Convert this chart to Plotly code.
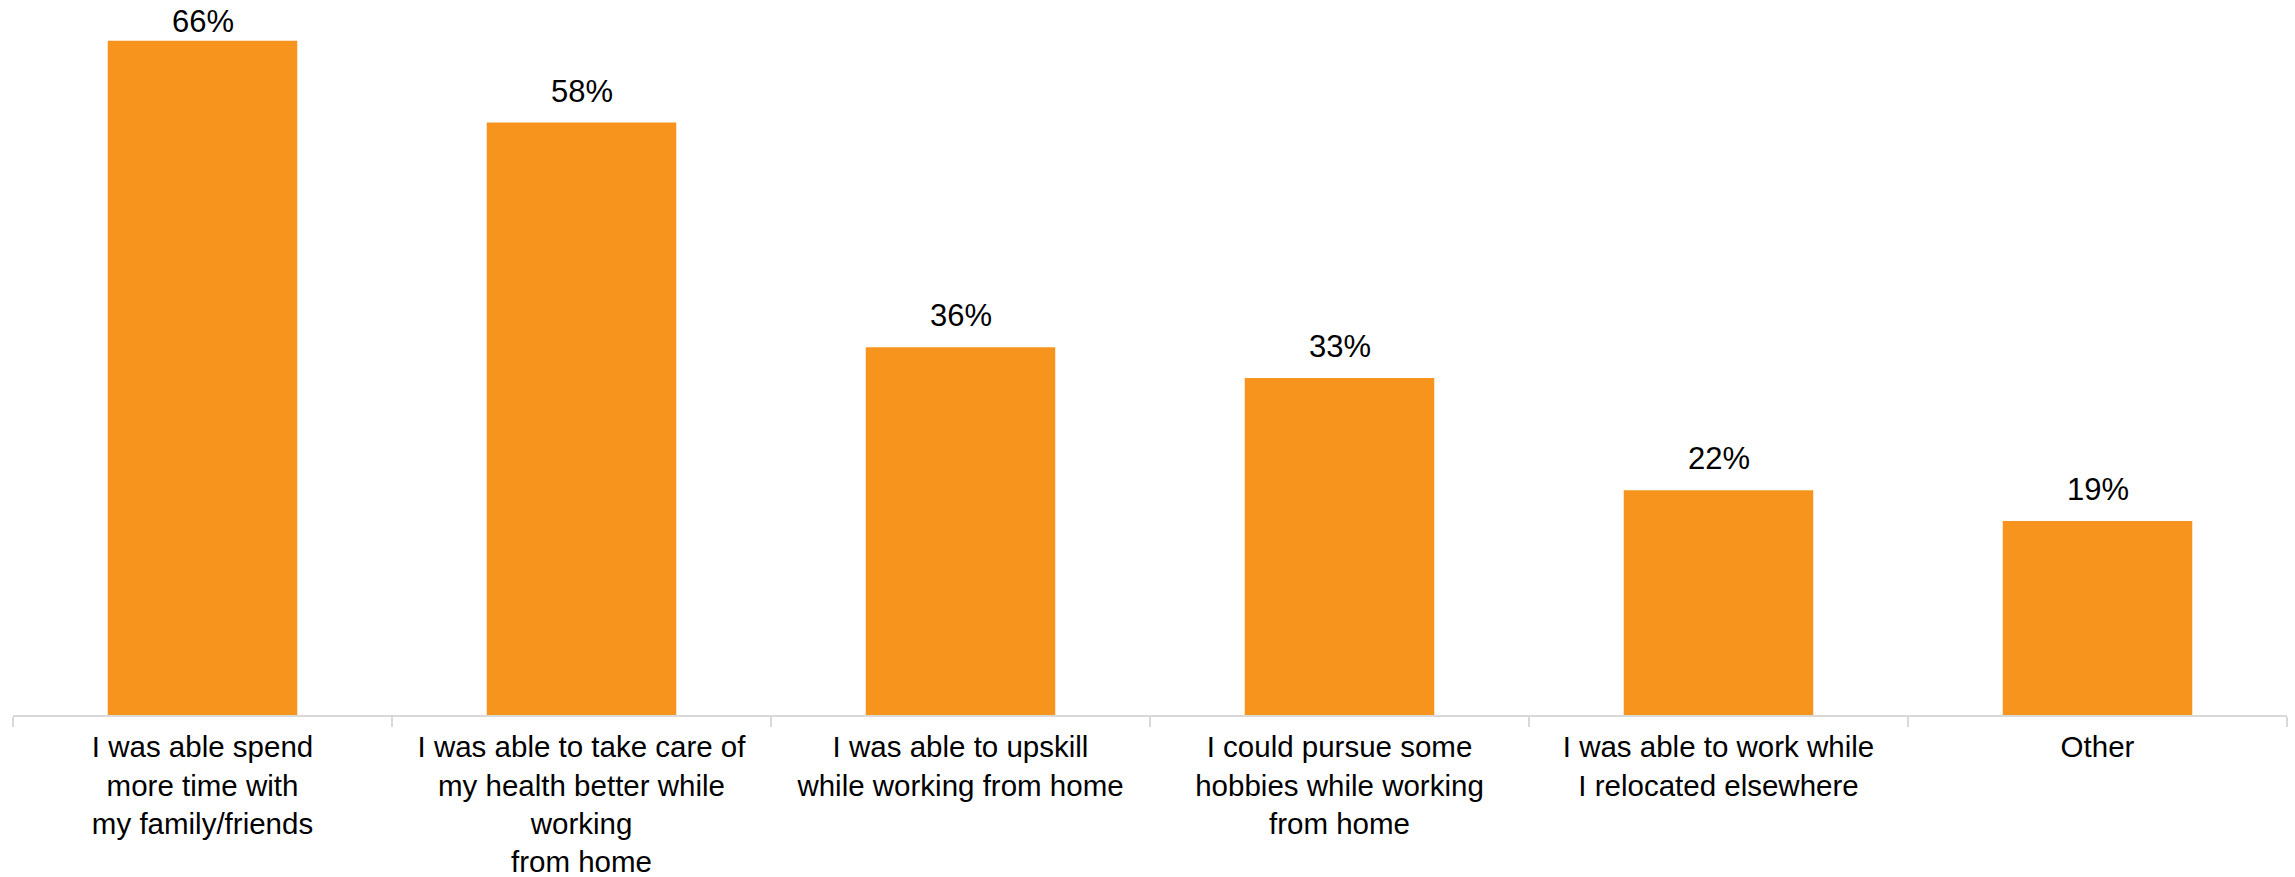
import plotly.graph_objects as go

# Survey responses: benefits of working from home
categories = [
    "I was able spend<br>more time with<br>my family/friends",
    "I was able to take care of<br>my health better while<br>working<br>from home",
    "I was able to upskill<br>while working from home",
    "I could pursue some<br>hobbies while working<br>from home",
    "I was able to work while<br>I relocated elsewhere",
    "Other",
]
values = [66, 58, 36, 33, 22, 19]
value_labels = [f"{v}%" for v in values]

BAR_COLOR = "#F7941E"
AXIS_COLOR = "#D9D9D9"
FONT = "Liberation Sans, Arial, sans-serif"

WIDTH, HEIGHT = 2295, 877
MARGIN_T, MARGIN_B = 0, 162
Y_MAX = 70.0
PLOT_H = HEIGHT - MARGIN_T - MARGIN_B

fig = go.Figure(
    go.Bar(
        x=categories,
        y=values,
        marker=dict(color=BAR_COLOR, line=dict(width=0)),
        hovertemplate="%{y}%<extra></extra>",
    )
)

# Percentage labels above each bar; a label that would run past the top
# edge is tucked closer to its bar so it stays fully visible.
LABEL_GAP = 12
LABEL_ROOM = 41
for cat, val, lab in zip(categories, values, value_labels):
    bar_top_px = PLOT_H * (1 - val / Y_MAX)
    shift = max(0, min(LABEL_GAP, bar_top_px - LABEL_ROOM))
    fig.add_annotation(
        x=cat,
        y=val,
        text=lab,
        showarrow=False,
        xanchor="center",
        yanchor="bottom",
        yshift=shift,
        font=dict(family=FONT, size=31, color="#000000"),
    )

fig.update_layout(
    width=WIDTH,
    height=HEIGHT,
    margin=dict(l=13, r=8, t=MARGIN_T, b=MARGIN_B),
    paper_bgcolor="white",
    plot_bgcolor="white",
    bargap=0.5,
    showlegend=False,
    font=dict(family=FONT, color="#000000"),
)

fig.update_xaxes(
    type="category",
    automargin=False,
    showline=True,
    linecolor=AXIS_COLOR,
    linewidth=2,
    ticks="outside",
    tickson="boundaries",
    ticklen=10,
    tickwidth=2,
    tickcolor=AXIS_COLOR,
    tickfont=dict(family=FONT, size=29.5, color="#000000"),
    tickangle=0,
    ticklabelstandoff=5,
    showgrid=False,
)

fig.update_yaxes(
    range=[0, Y_MAX],
    visible=False,
    showgrid=False,
    zeroline=False,
)

fig.write_html("out.html")
